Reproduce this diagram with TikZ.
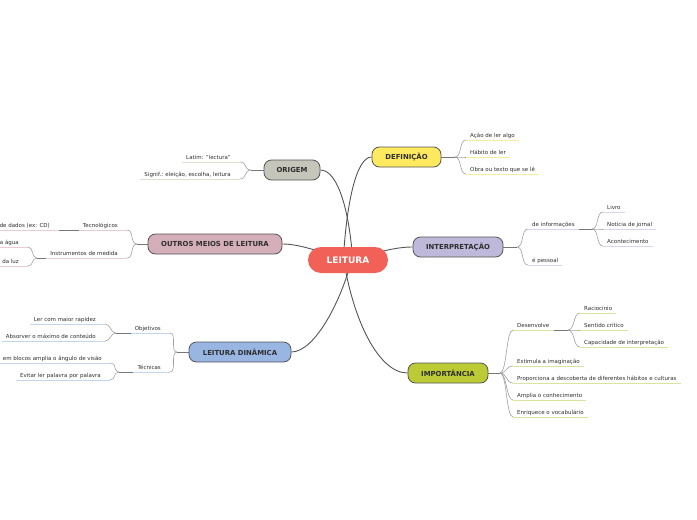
\documentclass[tikz,border=0pt]{standalone}
\usepackage{fontspec}
\setmainfont{DejaVu Sans}
\usetikzlibrary{backgrounds}
\definecolor{cLeit}{HTML}{F26157}
\definecolor{cDef}{HTML}{FFE95F}
\definecolor{cOri}{HTML}{C6C5B9}
\definecolor{cOut}{HTML}{D4AEB8}
\definecolor{cInt}{HTML}{BEB8DA}
\definecolor{cDin}{HTML}{99B5E2}
\definecolor{cImp}{HTML}{BCCB35}
\definecolor{uDef}{HTML}{F5EC9A}
\definecolor{uOri}{HTML}{DEDDD0}
\definecolor{uOut}{HTML}{EBCAD3}
\definecolor{uInt}{HTML}{D9D5EC}
\definecolor{uDin}{HTML}{C3D5F1}
\definecolor{uImp}{HTML}{DCE3A0}
\definecolor{cBorder}{HTML}{555555}
\definecolor{cText}{HTML}{2E2E2E}
\definecolor{cTrunk}{HTML}{555555}
\definecolor{cStub}{HTML}{777777}
\definecolor{cBranch}{HTML}{A0A0A0}
\begin{document}
\begin{tikzpicture}[x=1pt,y=-1pt,
  mainbox/.style={draw=cBorder, line width=0.8pt, rounded corners=7.5pt, minimum height=20pt, inner sep=0pt, font=\fontsize{6.9}{8}\selectfont\bfseries, text=cText},
  leafR/.style={anchor=south west, inner xsep=4pt, inner ysep=1.5pt, font=\fontsize{5.5}{6.5}\selectfont, text=cText, text height=4pt, text depth=1.1pt},
  leafL/.style={leafR, anchor=south east, xshift=-5pt},
  branch/.style={draw=cBranch, line width=0.6pt},
  stub/.style={draw=cStub, line width=1pt},
  trunk/.style={draw=cTrunk, line width=0.9pt},
  uline/.style={line width=0.8pt}]
\useasboundingbox (0,0) rectangle (697,520);

% main nodes
\node[mainbox, fill=cLeit, draw=none, minimum width=80pt, minimum height=26pt, rounded corners=13pt, text=white, font=\fontsize{9}{10}\selectfont\bfseries] (leit) at (348,260) {LEITURA};
\node[mainbox, fill=cDef, minimum width=69pt] (def) at (406.5,157) {DEFINIÇÃO};
\node[mainbox, fill=cOri, minimum width=56pt] (ori) at (292,170) {ORIGEM};
\node[mainbox, fill=cOut, minimum width=134pt] (out) at (215,244) {OUTROS MEIOS DE LEITURA};
\node[mainbox, fill=cInt, minimum width=90pt] (int) at (458,247) {INTERPRETAÇÃO};
\node[mainbox, fill=cDin, minimum width=102pt] (din) at (240,352) {LEITURA DINÂMICA};
\node[mainbox, fill=cImp, minimum width=80pt] (imp) at (448,373) {IMPORTÂNCIA};

% leaves: DEFINICAO
\coordinate (defb) at (455,157);
\node[leafR] (d1) at (466,140) {Ação de ler algo};
\node[leafR] (d2) at (466,157) {Hábito de ler};
\node[leafR] (d3) at (466,174) {Obra ou texto que se lê};

% ORIGEM
\coordinate (orib) at (251,170);
\node[leafL] (o1) at (240,162) {Latim: "lectura"};
\node[leafL] (o2) at (240,179) {Signif.: eleição, escolha, leitura};

% OUTROS
\coordinate (outb) at (137,244);
\node[leafL] (t1) at (127,230) {Tecnológicos};
\node[leafL] (t2) at (127,258) {Instrumentos de medida};
\node[leafL] (tg) at (59,230) {de dados (ex: CD)};
\coordinate (t2b) at (37,258);
\node[leafL] (ia) at (28,247) {a água};
\node[leafL] (ib) at (28,266) {da luz};

% INTERPRETACAO
\coordinate (intb) at (517,247);
\node[leafR] (i1) at (528,229) {de informações};
\node[leafR] (i2) at (528,265) {é pessoal};
\coordinate (i1b) at (592,229);
\node[leafR] (g1) at (603,212) {Livro};
\node[leafR] (g2) at (603,229) {Notícia de jornal};
\node[leafR] (g3) at (603,246) {Acontecimento};

% LEITURA DINAMICA
\coordinate (dinb) at (177,352);
\node[leafL] (ob) at (170,333) {Objetivos};
\node[leafL] (te) at (170,372) {Técnicas};
\coordinate (obb) at (116,333);
\coordinate (teb) at (119,372);
\node[leafL] (oa) at (105,324) {Ler com maior rapidez};
\node[leafL] (oc) at (105,341) {Absorver o máximo de conteúdo};
\node[leafL] (ta) at (111,363) {em blocos amplia o ângulo de visão};
\node[leafL] (tb) at (110,380) {Evitar ler palavra por palavra};

% IMPORTANCIA
\coordinate (impb) at (500,373);
\node[leafR] (m1) at (513,330) {Desenvolve};
\node[leafR] (m2) at (513,366) {Estimula a imaginação};
\node[leafR] (m3) at (513,383) {Proporciona a descoberta de diferentes hábitos e culturas};
\node[leafR] (m4) at (513,400) {Amplia o conhecimento};
\node[leafR] (m5) at (513,417) {Enriquece o vocabulário};
\coordinate (m1b) at (568,330);
\node[leafR] (r1) at (580,313) {Raciocínio};
\node[leafR] (r2) at (580,330) {Sentido crítico};
\node[leafR] (r3) at (580,347) {Capacidade de interpretação};

\begin{scope}[on background layer]
  % trunks
  \draw[trunk] (leit.center) ++(-5,5) .. controls (346,205) and (356,157) .. (def.west);
  \draw[trunk] (leit.center) ++(5,5) .. controls (350,212) and (338,170) .. (ori.east);
  \draw[trunk] (leit.center) .. controls (320,252) and (300,244) .. (out.east);
  \draw[trunk] (leit.center) .. controls (380,252) and (395,247) .. (int.west);
  \draw[trunk] (leit.center) ++(5,-5) .. controls (342,300) and (315,352) .. (din.east);
  \draw[trunk] (leit.center) ++(-5,-5) .. controls (352,318) and (378,373) .. (imp.west);

  % DEFINICAO
  \draw[stub] (def.east) -- (defb);
  \foreach \n in {d1,d2,d3} {
    \draw[branch] (defb) .. controls +(7,0) and +(-7,0) .. (\n.south west);
    \draw[uline, draw=uDef] (\n.south west) -- (\n.south east);
  }
  % ORIGEM
  \draw[stub] (ori.west) -- (orib);
  \foreach \n in {o1,o2} {
    \draw[branch] (orib) .. controls +(-7,0) and +(7,0) .. ([xshift=5pt]\n.south east);
    \draw[uline, draw=uOri] (\n.south west) -- ([xshift=5pt]\n.south east);
  }
  % OUTROS
  \draw[stub] (out.west) -- (outb);
  \foreach \n in {t1,t2} {
    \draw[branch] (outb) .. controls +(-7,0) and +(7,0) .. ([xshift=5pt]\n.south east);
    \draw[uline, draw=uOut] (\n.south west) -- ([xshift=5pt]\n.south east);
  }
  \draw[stub] (t1.south west) -- ([xshift=5pt]tg.south east);
  \draw[uline, draw=uOut] (tg.south west) -- ([xshift=5pt]tg.south east);
  \draw[stub] (t2.south west) -- (t2b);
  \foreach \n in {ia,ib} {
    \draw[branch] (t2b) .. controls +(-6,0) and +(6,0) .. ([xshift=5pt]\n.south east);
    \draw[uline, draw=uOut] (\n.south west) -- ([xshift=5pt]\n.south east);
  }
  % INTERPRETACAO
  \draw[stub] (int.east) -- (intb);
  \foreach \n in {i1,i2} {
    \draw[branch] (intb) .. controls +(7,0) and +(-7,0) .. (\n.south west);
    \draw[uline, draw=uInt] (\n.south west) -- (\n.south east);
  }
  \draw[stub] (i1.south east) -- (i1b);
  \foreach \n in {g1,g2,g3} {
    \draw[branch] (i1b) .. controls +(7,0) and +(-7,0) .. (\n.south west);
    \draw[uline, draw=uInt] (\n.south west) -- (\n.south east);
  }
  % LEITURA DINAMICA
  \draw[stub] (din.west) -- (dinb);
  \foreach \n in {ob,te} {
    \draw[branch] (dinb) .. controls +(-7,0) and +(7,0) .. ([xshift=5pt]\n.south east);
    \draw[uline, draw=uDin] (\n.south west) -- ([xshift=5pt]\n.south east);
  }
  \draw[stub] (ob.south west) -- (obb);
  \foreach \n in {oa,oc} {
    \draw[branch] (obb) .. controls +(-6,0) and +(6,0) .. ([xshift=5pt]\n.south east);
    \draw[uline, draw=uDin] (\n.south west) -- ([xshift=5pt]\n.south east);
  }
  \draw[stub] (te.south west) -- (teb);
  \foreach \n in {ta,tb} {
    \draw[branch] (teb) .. controls +(-6,0) and +(6,0) .. ([xshift=5pt]\n.south east);
    \draw[uline, draw=uDin] (\n.south west) -- ([xshift=5pt]\n.south east);
  }
  % IMPORTANCIA
  \draw[stub] (imp.east) -- (impb);
  \foreach \n in {m1,m2,m3,m4,m5} {
    \draw[branch] (impb) .. controls +(7,0) and +(-7,0) .. (\n.south west);
    \draw[uline, draw=uImp] (\n.south west) -- (\n.south east);
  }
  \draw[stub] (m1.south east) -- (m1b);
  \foreach \n in {r1,r2,r3} {
    \draw[branch] (m1b) .. controls +(7,0) and +(-7,0) .. (\n.south west);
    \draw[uline, draw=uImp] (\n.south west) -- (\n.south east);
  }
\end{scope}
\end{tikzpicture}
\end{document}
